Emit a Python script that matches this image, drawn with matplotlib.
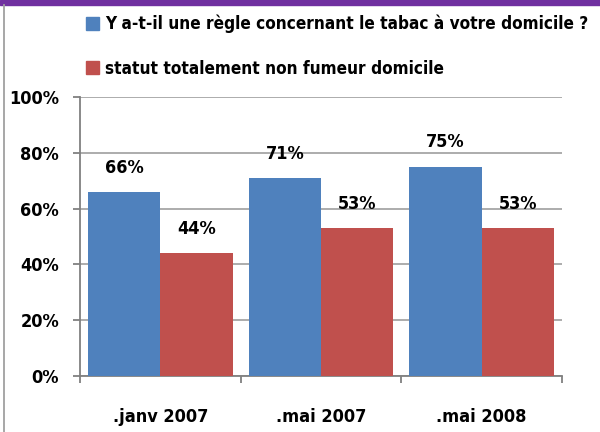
import numpy as np
import matplotlib.pyplot as plt
from matplotlib.patches import Rectangle
from matplotlib.lines import Line2D

# data
categories = ['.janv 2007', '.mai 2007', '.mai 2008']
regle = [66, 71, 75]
non_fumeur = [44, 53, 53]
series_names = ['Y a-t-il une règle concernant le tabac à votre domicile ?',
                'statut totalement non fumeur domicile']
yticks = [0, 20, 40, 60, 80, 100]

blue = '#4F81BD'
red = '#C0504D'
grid_c = '#A6A6A6'

plt.rcParams['font.family'] = ['Liberation Sans Narrow', 'DejaVu Sans Condensed', 'DejaVu Sans']
plt.rcParams['font.stretch'] = 'condensed'
plt.rcParams['font.weight'] = 'bold'

fig = plt.figure(figsize=(6, 4.32), dpi=100)
ax = fig.add_axes([80/600, 1-376/432, 482/600, 279/432])

x = np.arange(len(categories))
w = 0.45
b1 = ax.bar(x - w/2, regle, w, color=blue, label=series_names[0], zorder=3)
b2 = ax.bar(x + w/2, non_fumeur, w, color=red, label=series_names[1], zorder=3)

for bars, vals in [(b1, regle), (b2, non_fumeur)]:
    for rect, v in zip(bars, vals):
        ax.annotate(f'{v}%', (rect.get_x() + rect.get_width()/2, v),
                    xytext=(0, 17.5), textcoords='offset points',
                    ha='center', va='center', fontsize=13, fontweight='bold')

ax.set_xlim(-0.5, 2.5)
ax.set_ylim(0, 100)
ax.set_yticks(yticks)
ax.set_yticklabels([f'{t}%' for t in yticks], fontsize=13, fontweight='bold')
ax.yaxis.grid(True, color=grid_c, linewidth=1.3, zorder=0)

# category ticks on the boundaries, labels centred
ax.set_xticks([-0.5, 0.5, 1.5, 2.5])
ax.set_xticklabels([])
ax.set_xticks(x, minor=True)
ax.set_xticklabels(categories, minor=True, fontsize=13, fontweight='bold')
ax.tick_params(axis='x', which='minor', length=0, pad=23)
ax.tick_params(axis='x', which='major', length=5, color='#808080', width=1.3)
ax.tick_params(axis='y', length=5, color='#808080', width=1.3, pad=10)

for s in ['top', 'right']:
    ax.spines[s].set_visible(False)
for s in ['left', 'bottom']:
    ax.spines[s].set_color('#808080')
    ax.spines[s].set_linewidth(1.3)

handles = [Rectangle((0, 0), 1, 1, color=blue), Rectangle((0, 0), 1, 1, color=red)]
fig.legend(handles, series_names, loc='upper left', bbox_to_anchor=(79/600, 1 - 8/432),
           frameon=False, prop={'weight': 'bold', 'size': 12.3, 'stretch': 'condensed'},
           handlelength=0.8, handleheight=0.8, handletextpad=0.35,
           labelspacing=1.55, borderaxespad=0)

# purple band at top and grey line on the left
fig.add_artist(Rectangle((0, 1 - 5/432), 1, 5/432, transform=fig.transFigure,
                         color='#7030A0'))
fig.add_artist(Line2D([4/600, 4/600], [0, 1 - 5/432], transform=fig.transFigure,
                      color='#A0A0A0', linewidth=1.3))

fig.savefig('out.png', dpi=100)
